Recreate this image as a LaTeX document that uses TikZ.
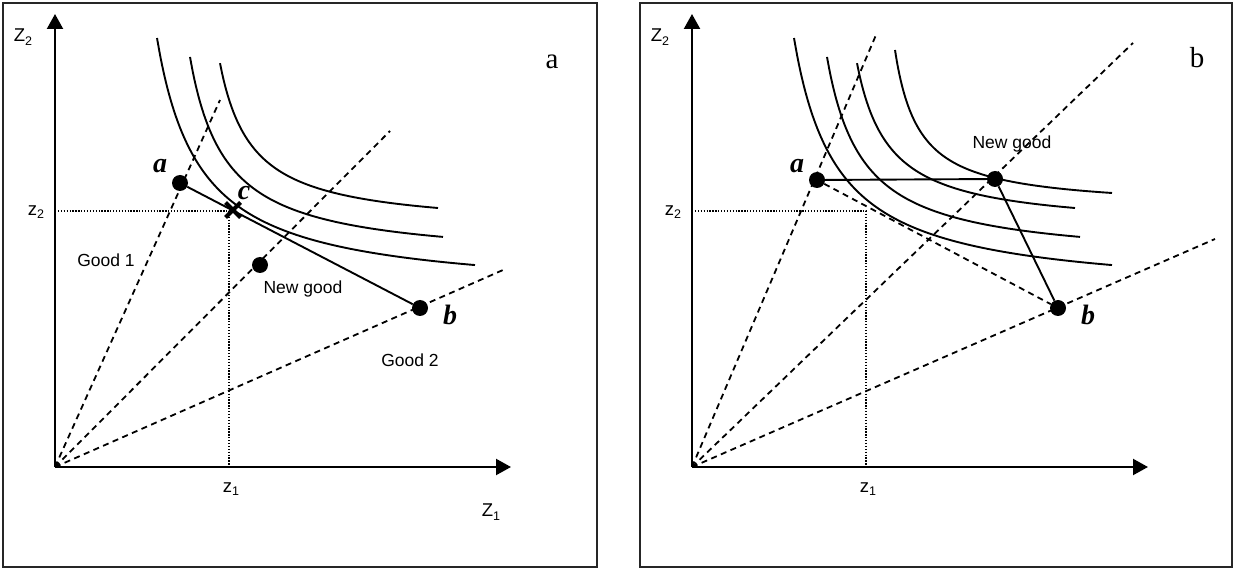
\documentclass[tikz,border=0pt]{standalone}
\usepackage{fontspec}
\newfontfamily\arial{Liberation Sans}
\newfontfamily\tnr{Liberation Serif}
\usetikzlibrary{arrows.meta,shapes.misc}
\newcommand{\lowsub}[1]{\raisebox{-0.2em}{\fontsize{12.5pt}{12.5pt}\selectfont #1}}
\tikzset{
  frame/.style={draw=black!85, line width=1.6pt},
  axis/.style={line width=2.2pt, -{Triangle[length=15pt,width=16pt]}},
  curve/.style={line width=1.9pt},
  ray/.style={line width=1.8pt, dash pattern=on 6pt off 4.5pt},
  guide/.style={line width=1.3pt, dash pattern=on 1.3pt off 1.6pt},
  dot/.style={circle, fill, inner sep=0pt, minimum size=16pt},
  crossmark/.style={cross out, draw, line width=4pt, minimum size=11pt, inner sep=0pt},
  sans/.style={font=\arial\fontsize{17.5pt}{17.5pt}\selectfont, inner sep=0pt},
  axlabel/.style={font=\arial\fontsize{18.5pt}{18.5pt}\selectfont, inner sep=0pt},
  ptlabel/.style={font=\tnr\bfseries\itshape\fontsize{28pt}{28pt}\selectfont, inner sep=0pt},
  panel/.style={font=\tnr\fontsize{29pt}{29pt}\selectfont, inner sep=0pt},
  segment/.style={line width=1.9pt}
}
\begin{document}
\begin{tikzpicture}[x=1pt,y=-1pt]
\useasboundingbox (0,0) rectangle (1235,569);

% ---------------- left panel ----------------
\draw[frame] (3,3) rectangle (597,567);
\coordinate (O1) at (55,467);
\coordinate (Y1) at (55,14);
\coordinate (X1) at (511,467);
\coordinate (G1a) at (220,100);
\coordinate (N1a) at (390,131);
\coordinate (G2a) at (503,270);
\coordinate (D1) at (229,211);
\coordinate (D1y) at (55,211);
\coordinate (D1x) at (229,467);

\draw[guide] (D1y) -- (D1) -- (D1x);
\draw[ray] (O1) -- (G1a);
\draw[ray] (O1) -- (N1a);
\draw[ray] (O1) -- (G2a);

\draw[curve] plot[domain=157:475, samples=90, smooth] (\x, {295.9-11140/(\x-113.8)});
\draw[curve] plot[domain=190:443, samples=90, smooth] (\x, {262.3-7331/(\x-154.3)});
\draw[curve] plot[domain=220:438, samples=90, smooth] (\x, {229.4-5353/(\x-187.8)});

\draw[axis] (O1) -- (Y1);
\draw[axis] (O1) -- (X1);

\node[dot] (a1) at (180,183) {};
\node[dot] (n1) at (260,265) {};
\node[dot] (b1) at (420,308) {};
\draw[segment] (a1) -- (b1);
\node[crossmark] (c1) at (233,210) {};

\node[ptlabel] (la1) at (160,166) {a};
\node[ptlabel] (lc1) at (244,193) {c};
\node[ptlabel] (lb1) at (450,315) {b};
\node[sans] (ng1) at (303,289) {New good};
\node[sans] (g11) at (106,260) {Good 1};
\node[sans] (g21) at (410,360) {Good 2};
\node[axlabel] (Z21) at (23,37) {Z\lowsub{2}};
\node[axlabel] (z21) at (36,212) {z\lowsub{2}};
\node[axlabel] (z11) at (231,489) {z\lowsub{1}};
\node[axlabel] (Z11) at (491,512) {Z\lowsub{1}};
\node[panel, anchor=base] (pa) at (552,69) {a};

% ---------------- right panel ----------------
\begin{scope}[shift={(637,0)}]
\draw[frame] (3,3) rectangle (595,567);
\coordinate (O2) at (55,467);
\coordinate (Y2) at (55,14);
\coordinate (X2) at (511,467);
\coordinate (G1b) at (239,35);
\coordinate (N1b) at (496,43);
\coordinate (G2b) at (578,239);
\coordinate (D2) at (229,211);
\coordinate (D2y) at (55,211);
\coordinate (D2x) at (229,467);

\draw[guide] (D2y) -- (D2) -- (D2x);
\draw[ray] (O2) -- (G1b);
\draw[ray] (O2) -- (N1b);
\draw[ray] (O2) -- (G2b);

\draw[curve] plot[domain=157:475, samples=90, smooth] (\x, {295.9-11140/(\x-113.8)});
\draw[curve] plot[domain=190:443, samples=90, smooth] (\x, {262.3-7331/(\x-154.3)});
\draw[curve] plot[domain=220:438, samples=90, smooth] (\x, {229.4-5353/(\x-187.8)});
\draw[curve] plot[domain=258:475, samples=90, smooth] (\x, {208.9-3837.6/(\x-233.85)});

\draw[axis] (O2) -- (Y2);
\draw[axis] (O2) -- (X2);

\node[dot] (a2) at (180,180) {};
\node[dot] (n2) at (358,179) {};
\node[dot] (b2) at (421,308) {};
\draw[segment] (a2) -- (n2);
\draw[segment] (n2) -- (b2);
\draw[ray] (a2) -- (b2);

\node[ptlabel] (la2) at (160,166) {a};
\node[ptlabel] (lb2) at (451,315) {b};
\node[sans] (ng2) at (375,144) {New good};
\node[axlabel] (Z22) at (23,37) {Z\lowsub{2}};
\node[axlabel] (z22) at (36,212) {z\lowsub{2}};
\node[axlabel] (z12) at (231,489) {z\lowsub{1}};
\node[panel, anchor=base] (pb) at (560,68) {b};
\end{scope}
\end{tikzpicture}
\end{document}
